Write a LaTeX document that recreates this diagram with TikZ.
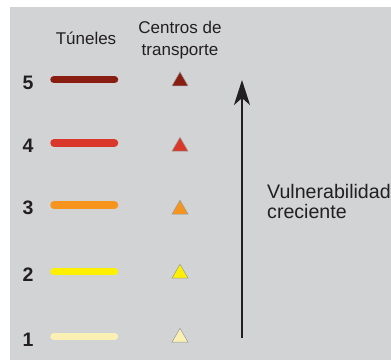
\documentclass[tikz,border=0pt]{standalone}
\usepackage{fontspec}
\setmainfont{Liberation Sans}
\usetikzlibrary{shapes.geometric,arrows.meta}
\definecolor{bg}{HTML}{D1D3D4}
\definecolor{ink}{HTML}{231F20}
\definecolor{lvA}{HTML}{FAF0B4}
\definecolor{lvB}{HTML}{FFF000}
\definecolor{lvC}{HTML}{F7941E}
\definecolor{lvD}{HTML}{D9372A}
\definecolor{lvE}{HTML}{8A1D12}
\tikzset{
  tunnel/.style={line width=7.5pt, line cap=round},
  hub/.style={regular polygon, regular polygon sides=3, minimum size=18.5pt, inner sep=0pt, draw=black!40, line width=0.5pt},
  level/.style={font=\fontsize{19.5}{20}\selectfont\bfseries, text=ink, inner sep=0pt, anchor=base},
  head/.style={font=\fontsize{17}{20}\selectfont, text=ink, inner sep=0pt, anchor=base},
  side/.style={font=\fontsize{19.6}{21}\selectfont, text=ink, inner sep=0pt, anchor=base west},
}
\begin{document}
\begin{tikzpicture}[x=1pt, y=-1pt]
\useasboundingbox (0,0) rectangle (391,360);
\fill[bg] (10,7) rectangle (391,360);
% headers
\node[head] (ht) at (86,44.3) {Túneles};
\node[head] (hc1) at (180,33.3) {Centros de};
\node[head] (hc2) at (180,55.7) {transporte};
% levels
\foreach \n/\y/\c/\t in {5/79.7/lvE/81.2, 4/142.8/lvD/146.5, 3/205/lvC/209.5, 2/271.7/lvB/273.5, 1/336.5/lvA/337.5}{
  \node[level] (n\n) at (28,\y+9.5) {\n};
  \coordinate (l\n a) at (54,\y);
  \coordinate (l\n b) at (114.5,\y);
  \draw[tunnel, draw=\c] (l\n a) -- (l\n b);
  \node[hub, fill=\c] (t\n) at (180,\t) {};
}
% arrow
\coordinate (abot) at (242,338);
\coordinate (atop) at (242,80);
\draw[line width=2pt, draw=ink, -{Stealth[length=25pt, width=16pt, inset=7pt]}] (abot) -- (atop);
\node[side] (v1) at (267,198.3) {Vulnerabilidad};
\node[side] (v2) at (267,218.5) {creciente};
\end{tikzpicture}
\end{document}
